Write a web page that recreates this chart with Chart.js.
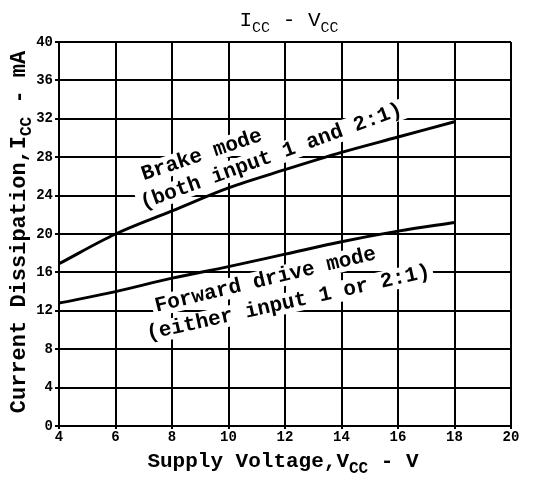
<!DOCTYPE html>
<html>
<head>
<meta charset="utf-8">
<script src="https://cdn.jsdelivr.net/npm/chart.js@4.4.1/dist/chart.umd.min.js"></script>
<style>
  body { margin: 0; background: #fff; }
  #wrap { width: 550px; height: 481px; }
</style>
</head>
<body>
<div id="wrap"><canvas id="myChart" width="550" height="481"></canvas></div>
<script>
// values, every 2 V
const voltage = [4, 6, 8, 10, 12, 14, 16, 18];
const brakeMode = [16.9, 20.0, 22.4, 24.8, 26.7, 28.5, 30.1, 31.7];
const forwardMode = [12.8, 14.0, 15.4, 16.6, 17.9, 19.2, 20.3, 21.2];

const xTicks = [4, 6, 8, 10, 12, 14, 16, 18, 20];
const yTicks = [0, 4, 8, 12, 16, 20, 24, 28, 32, 36, 40];

const FONT = "'Liberation Mono', 'DejaVu Sans Mono', monospace";

// text pieces, "sub" ones are drawn as subscripts
const titleParts = [{ t: "I" }, { t: "CC", sub: true }, { t: " - V" }, { t: "CC", sub: true }];
const xTitleParts = [{ t: "Supply Voltage,V" }, { t: "CC", sub: true }, { t: " - V" }];
const yTitleParts = [{ t: "Current Dissipation,I" }, { t: "CC", sub: true }, { t: " - mA" }];

// curve labels, placed in data units
const notes = [
  { text: "Brake mode", x: 7.0, y: 25.6, angle: -18.5 },
  { text: "(both input 1 and 2:1)", x: 6.97, y: 22.6, angle: -20 },
  { text: "Forward drive mode", x: 7.45, y: 11.9, angle: -13.5 },
  { text: "(either input 1 or 2:1)", x: 7.15, y: 9.0, angle: -12.5 },
];

function drawParts(ctx, parts, x, y, size, subSize, weight) {
  let w = 0;
  parts.forEach((p) => {
    ctx.font = weight + " " + (p.sub ? subSize : size) + "px " + FONT;
    w += ctx.measureText(p.t).width;
  });
  let cx = x - w / 2;
  parts.forEach((p) => {
    ctx.font = weight + " " + (p.sub ? subSize : size) + "px " + FONT;
    ctx.fillText(p.t, cx, p.sub ? y + 6 : y);
    cx += ctx.measureText(p.t).width;
  });
}

const labelsPlugin = {
  id: "labels",
  beforeDatasetsDraw(chart) {
    const ctx = chart.ctx;
    const xs = chart.scales.x;
    const ys = chart.scales.y;
    ctx.save();
    ctx.font = "bold 21px " + FONT;
    ctx.textBaseline = "alphabetic";
    notes.forEach((n) => {
      const px = xs.getPixelForValue(n.x);
      const py = ys.getPixelForValue(n.y);
      ctx.save();
      ctx.translate(px, py);
      ctx.rotate((n.angle * Math.PI) / 180);
      const w = ctx.measureText(n.text).width;
      ctx.fillStyle = "#fff";
      ctx.fillRect(-3, -16, w + 6, 21);
      ctx.fillStyle = "#000";
      ctx.fillText(n.text, 0, 0);
      ctx.restore();
    });
    ctx.restore();
  },
  afterDraw(chart) {
    const ctx = chart.ctx;
    const area = chart.chartArea;
    ctx.save();
    ctx.fillStyle = "#000";
    ctx.textAlign = "left";
    ctx.textBaseline = "alphabetic";
    drawParts(ctx, titleParts, 289, 26, 21, 15, "normal");
    drawParts(ctx, xTitleParts, 283, 467, 21, 16, "bold");
    ctx.translate(25, (area.top + area.bottom) / 2 - 2);
    ctx.rotate(-Math.PI / 2);
    drawParts(ctx, yTitleParts, 0, 0, 22, 16, "bold");
    ctx.restore();
  },
};

const ctx = document.getElementById("myChart");

new Chart(ctx, {
  type: "line",
  data: {
    datasets: [
      {
        label: "Brake mode",
        data: voltage.map((v, i) => ({ x: v, y: brakeMode[i] })),
        borderColor: "#000",
        borderWidth: 3,
        pointRadius: 0,
        cubicInterpolationMode: "monotone",
      },
      {
        label: "Forward drive mode",
        data: voltage.map((v, i) => ({ x: v, y: forwardMode[i] })),
        borderColor: "#000",
        borderWidth: 3,
        pointRadius: 0,
        cubicInterpolationMode: "monotone",
      },
    ],
  },
  options: {
    responsive: false,
    animation: false,
    layout: { padding: { top: 42, right: 39, left: 0, bottom: 0 } },
    plugins: {
      legend: { display: false },
      tooltip: { enabled: false },
    },
    scales: {
      x: {
        type: "linear",
        min: 4,
        max: 20,
        afterBuildTicks: (s) => { s.ticks = xTicks.map((v) => ({ value: v })); },
        afterFit: (s) => { s.height = 55; },
        grid: { color: "#000", lineWidth: 2, tickLength: 3 },
        border: { color: "#000", width: 2 },
        ticks: {
          color: "#000",
          padding: 0,
          maxRotation: 0,
          font: { family: FONT, weight: "bold", size: 14 },
        },
      },
      y: {
        min: 0,
        max: 40,
        afterBuildTicks: (s) => { s.ticks = yTicks.map((v) => ({ value: v })); },
        afterFit: (s) => { s.width = 59; },
        grid: { color: "#000", lineWidth: 2, tickLength: 4 },
        border: { color: "#000", width: 2 },
        ticks: {
          color: "#000",
          padding: 2,
          font: { family: FONT, weight: "bold", size: 14 },
        },
      },
    },
  },
  plugins: [labelsPlugin],
});
</script>
</body>
</html>
